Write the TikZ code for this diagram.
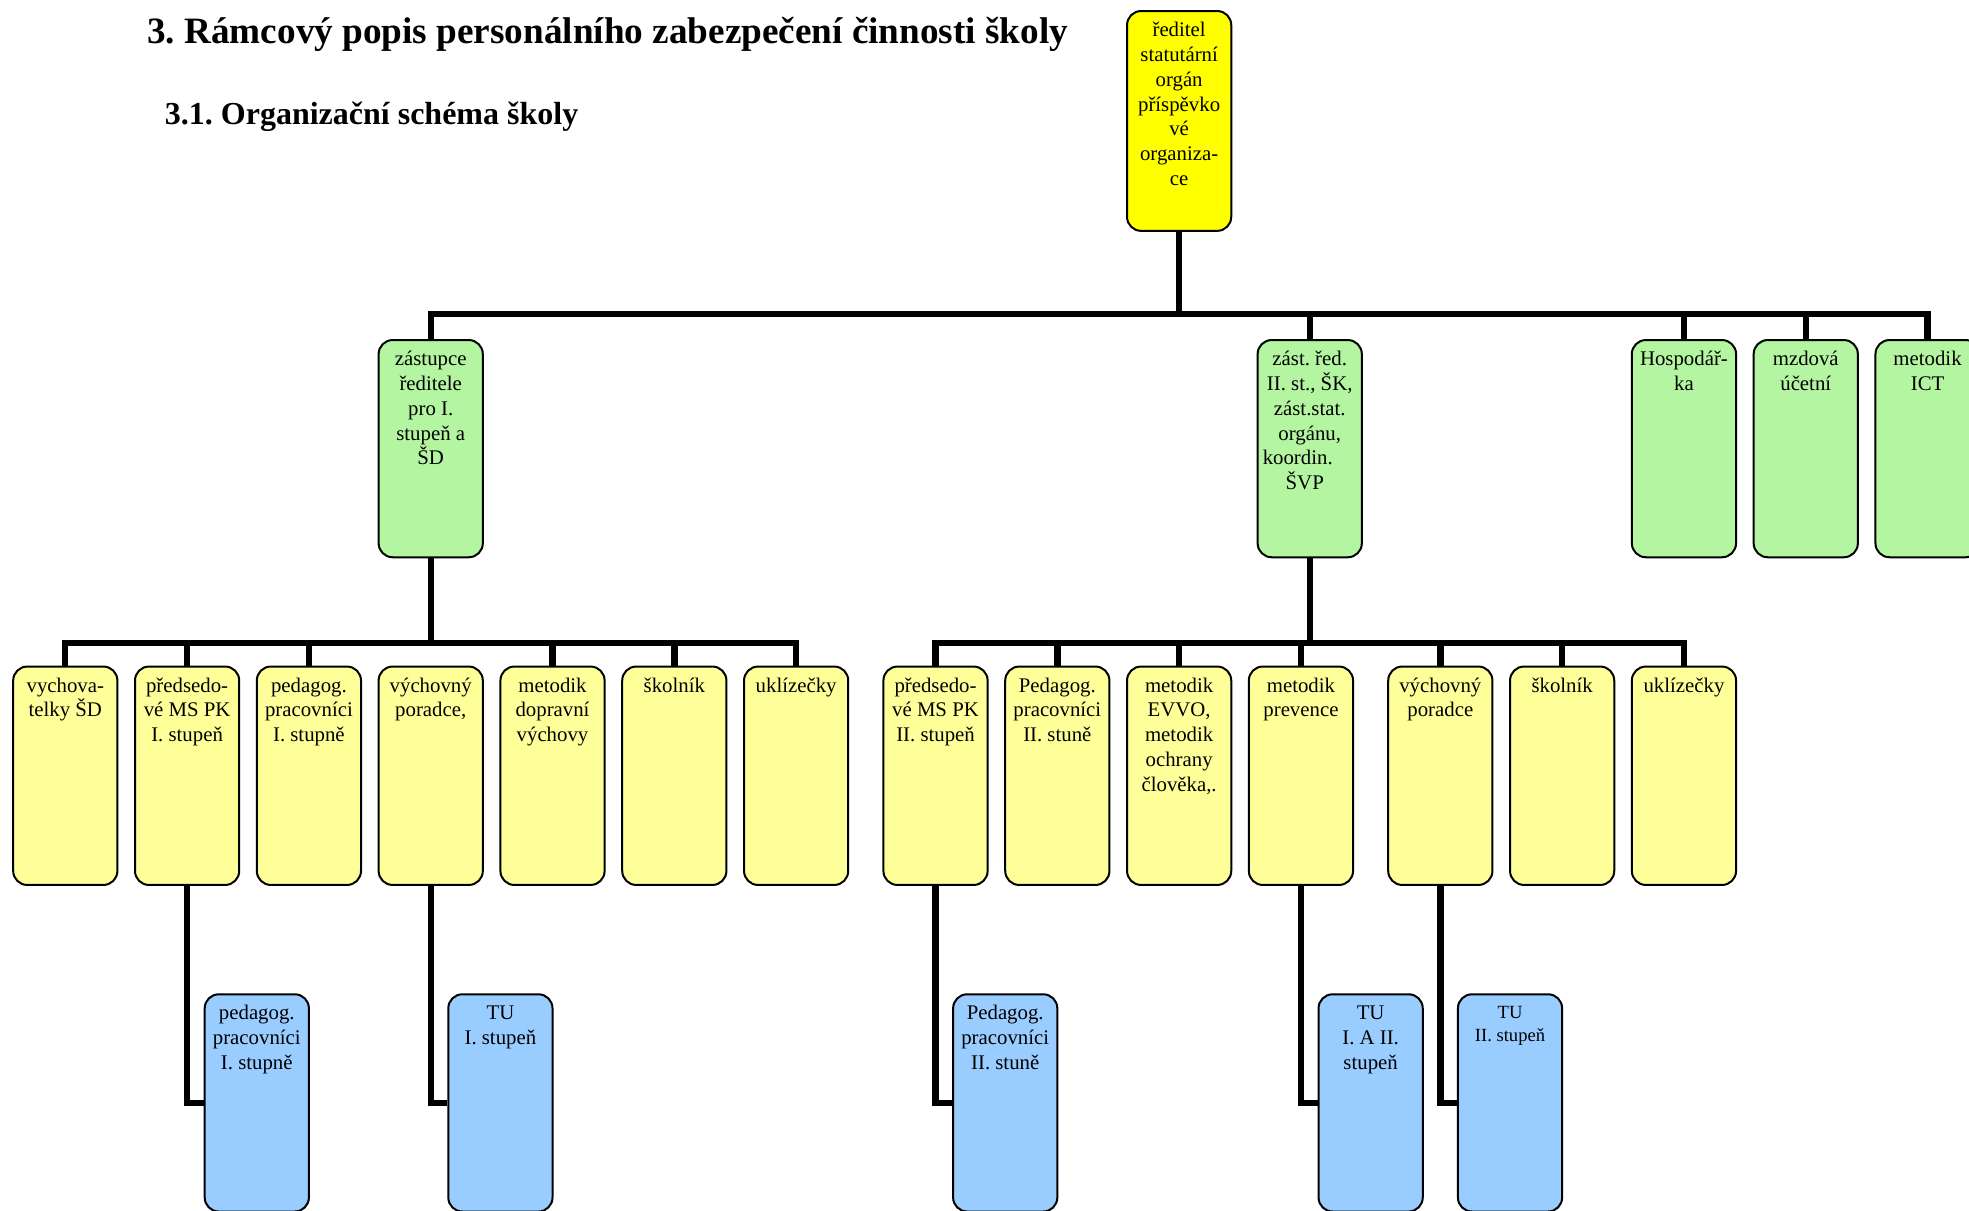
\documentclass[tikz,border=0pt]{standalone}
\usepackage{fontspec}
\setmainfont{Liberation Serif}
\frenchspacing
\usetikzlibrary{backgrounds}
\definecolor{rootyellow}{HTML}{FFFF00}
\definecolor{lgreen}{HTML}{B3F5A0}
\definecolor{lyellow}{HTML}{FFFF99}
\definecolor{lblue}{HTML}{99CCFF}
\newcommand\mybox[6]{\node[#1] (#2) at (#3,#4) {\parbox[t][#5][t]{52.1pt}{\centering\rule{0pt}{12.8pt}#6}};}
\tikzset{
  orgbox/.style={draw, line width=1pt, rounded corners=7pt, inner sep=0pt, anchor=north,
    font=\fontsize{10.4}{12.4}\selectfont},
  rootbox/.style={orgbox, fill=rootyellow},
  greenbox/.style={orgbox, fill=lgreen},
  yelbox/.style={orgbox, fill=lyellow},
  bluebox/.style={orgbox, fill=lblue},
  conn/.style={line width=3.2pt},
}
\begin{document}
\begin{tikzpicture}[x=0.62785pt, y=-0.62785pt]
\useasboundingbox (0,0) rectangle (1568,964);
% titles
\node[anchor=base west, inner sep=0pt, font=\fontsize{18.6}{22}\selectfont\bfseries] (title) at (117,35)
  {3. Rámcový popis personálního zabezpečení činnosti školy};
\node[anchor=base west, inner sep=0pt, font=\fontsize{16}{19}\selectfont\bfseries] (subtitle) at (131,99)
  {3.1. Organizační schéma školy};
% root
\mybox{rootbox}{root}{939}{8}{109.9pt}{ředitel\\statutární\\orgán\\příspěvko\\vé\\organiza-\\ce}
% level 2
\mybox{greenbox}{zA}{343}{270}{108.6pt}{zástupce\\ředitele\\pro I.\\stupeň a\\ŠD}
\mybox{greenbox}{zB}{1043}{270}{108.6pt}{zást. řed.\\II. st., ŠK,\\zást.stat.\\orgánu,\\koordin.\rule{12pt}{0pt}\\ŠVP\rule{5pt}{0pt}}
\mybox{greenbox}{hosp}{1341}{270}{108.6pt}{Hospodář-\\ka}
\mybox{greenbox}{mzd}{1438}{270}{108.6pt}{mzdová\\účetní}
\mybox{greenbox}{ict}{1535}{270}{108.6pt}{metodik\\ICT}
% level 3 left
\mybox{yelbox}{yA}{52}{530}{109.2pt}{vychova-\\telky ŠD}
\mybox{yelbox}{yB}{149}{530}{109.2pt}{předsedo-\\vé MS PK\\I. stupeň}
\mybox{yelbox}{yC}{246}{530}{109.2pt}{pedagog.\\pracovníci\\I. stupně}
\mybox{yelbox}{yD}{343}{530}{109.2pt}{výchovný\\poradce,}
\mybox{yelbox}{yE}{440}{530}{109.2pt}{metodik\\dopravní\\výchovy}
\mybox{yelbox}{yF}{537}{530}{109.2pt}{školník}
\mybox{yelbox}{yG}{634}{530}{109.2pt}{uklízečky}
% level 3 right
\mybox{yelbox}{yH}{745}{530}{109.2pt}{předsedo-\\vé MS PK\\II. stupeň}
\mybox{yelbox}{yI}{842}{530}{109.2pt}{Pedagog.\\pracovníci\\II. stuně}
\mybox{yelbox}{yJ}{939}{530}{109.2pt}{metodik\\EVVO,\\metodik\\ochrany\\člověka,.}
\mybox{yelbox}{yK}{1036}{530}{109.2pt}{metodik\\prevence}
\mybox{yelbox}{yL}{1147}{530}{109.2pt}{výchovný\\poradce}
\mybox{yelbox}{yM}{1244}{530}{109.2pt}{školník}
\mybox{yelbox}{yN}{1341}{530}{109.2pt}{uklízečky}
% level 4
\mybox{bluebox}{bA}{204.5}{791}{108.6pt}{pedagog.\\pracovníci\\I. stupně}
\mybox{bluebox}{bB}{398.5}{791}{108.6pt}{TU\\I. stupeň}
\mybox{bluebox}{bC}{800.5}{791}{108.6pt}{Pedagog.\\pracovníci\\II. stuně}
\mybox{bluebox}{bD}{1091.5}{791}{108.6pt}{TU\\I. A II.\\stupeň}
\node[bluebox, font=\fontsize{9.3}{11.2}\selectfont] (bE) at (1202.5,791)
  {\parbox[t][108.6pt][t]{52.1pt}{\centering\rule{0pt}{12.2pt}TU\\II. stupeň}};
% connectors
\begin{scope}[on background layer]
\coordinate (busTop) at (939,250);
\coordinate (busL) at (343,512);
\coordinate (busR) at (1043,512);
\draw[conn] (root.south) -- (busTop);
\draw[conn] (zA.north) |- (busTop) -| (ict.north);
\foreach \n in {zB,hosp,mzd} \draw[conn] (\n.north) -- (\n.north |- busTop);
\draw[conn] (zA.south) -- (busL);
\draw[conn] (yA.north) |- (busL) -| (yG.north);
\foreach \n in {yB,yC,yE,yF} \draw[conn] (\n.north) -- (\n.north |- busL);
\draw[conn] (zB.south) -- (busR);
\draw[conn] (yH.north) |- (busR) -| (yN.north);
\foreach \n in {yI,yJ,yK,yL,yM} \draw[conn] (\n.north) -- (\n.north |- busR);
\draw[conn] (yB.south) |- (bA.west);
\draw[conn] (yD.south) |- (bB.west);
\draw[conn] (yH.south) |- (bC.west);
\draw[conn] (yK.south) |- (bD.west);
\draw[conn] (yL.south) |- (bE.west);
\end{scope}
\end{tikzpicture}
\end{document}
